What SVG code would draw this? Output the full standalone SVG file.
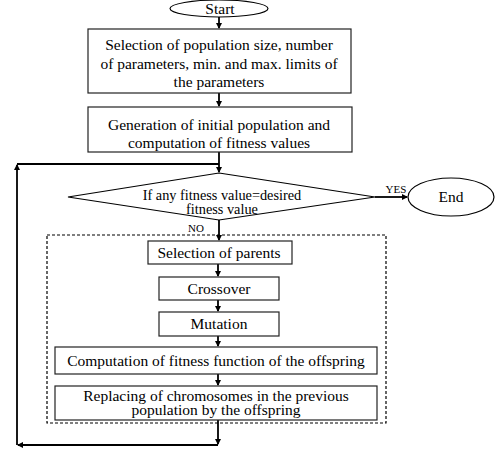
<svg xmlns="http://www.w3.org/2000/svg" width="495" height="453" viewBox="0 0 495 453">
<defs>
<marker id="ah" markerWidth="6" markerHeight="6" refX="5" refY="3" orient="auto" markerUnits="userSpaceOnUse">
<path d="M0,0 L6,3 L0,6 z" fill="#000"/>
</marker>
<style>
.box{fill:#fff;stroke:#222;stroke-width:1.2}
text{font-family:'Liberation Serif',serif;fill:#000;text-anchor:middle}
.t{font-size:15.5px}
.ts{font-size:14.3px}
.tl{font-size:11px}
.c{fill:none;stroke:#000;stroke-width:1.8}
</style>
</defs>
<rect width="495" height="453" fill="#fff"/>
<g id="connectors">
<line class="c" x1="219" y1="17" x2="219" y2="28" marker-end="url(#ah)"/>
<line class="c" x1="219" y1="93" x2="219" y2="106" marker-end="url(#ah)"/>
<line class="c" x1="219" y1="152" x2="219" y2="172" marker-end="url(#ah)"/>
<line class="c" x1="17" y1="164" x2="219" y2="164"/>
<line class="c" x1="17" y1="445" x2="17" y2="165" marker-end="url(#ah)"/>
<line class="c" x1="218" y1="445" x2="18" y2="445" marker-end="url(#ah)"/>
<line class="c" x1="218" y1="420" x2="218" y2="444" marker-end="url(#ah)"/>
<line class="c" x1="375" y1="197" x2="407" y2="197" marker-end="url(#ah)"/>
<line class="c" x1="219" y1="220" x2="219" y2="240" marker-end="url(#ah)"/>
<line class="c" x1="218" y1="264" x2="218" y2="276" marker-end="url(#ah)"/>
<line class="c" x1="218" y1="300" x2="218" y2="311" marker-end="url(#ah)"/>
<line class="c" x1="218" y1="336" x2="218" y2="346" marker-end="url(#ah)"/>
<line class="c" x1="218" y1="374" x2="218" y2="385" marker-end="url(#ah)"/>
<text class="tl" x="396" y="193" font-family="Liberation Serif, serif">YES</text>
<text class="tl" x="196" y="232" font-family="Liberation Serif, serif">NO</text>
</g>
<rect x="47" y="235" width="339" height="188" fill="none" stroke="#000" stroke-width="1.2" stroke-dasharray="3,2"/>
<g id="start">
<ellipse cx="219" cy="8.5" rx="49" ry="8.5" fill="#fff" stroke="#000" stroke-width="1.2"/>
<text class="t" x="220" y="14" font-family="Liberation Serif, serif">Start</text>
</g>
<g id="init">
<rect class="box" x="88" y="29" width="263" height="64"/>
<text class="t" x="219" y="50" font-family="Liberation Serif, serif">Selection of  population size, number</text>
<text class="t" x="219" y="68.5" font-family="Liberation Serif, serif">of parameters, min. and max. limits of</text>
<text class="t" x="219" y="87" font-family="Liberation Serif, serif">the parameters</text>
</g>
<g id="gen">
<rect class="box" x="88" y="107" width="264" height="45"/>
<text class="t" x="219" y="130" font-family="Liberation Serif, serif">Generation of initial population and</text>
<text class="t" x="219" y="148" font-family="Liberation Serif, serif">computation of fitness values</text>
</g>
<g id="decision">
<polygon points="219,173 375,197 219,220 68,197" fill="#fff" stroke="#000" stroke-width="1.2"/>
<text class="ts" x="222" y="200" font-family="Liberation Serif, serif">If any fitness value=desired</text>
<text class="ts" x="222" y="214" font-family="Liberation Serif, serif">fitness value</text>
</g>
<g id="end">
<ellipse cx="451" cy="197" rx="43" ry="19" fill="#fff" stroke="#000" stroke-width="1.2"/>
<text class="t" x="451" y="202" font-family="Liberation Serif, serif">End</text>
</g>
<g id="parents">
<rect class="box" x="148" y="241" width="144" height="23"/>
<text class="t" x="219" y="258" font-family="Liberation Serif, serif">Selection of parents</text>
</g>
<g id="crossover">
<rect class="box" x="159" y="277" width="120" height="23"/>
<text class="t" x="219" y="294" font-family="Liberation Serif, serif">Crossover</text>
</g>
<g id="mutation">
<rect class="box" x="159" y="312" width="120" height="24"/>
<text class="t" x="219" y="329" font-family="Liberation Serif, serif">Mutation</text>
</g>
<g id="fitness">
<rect class="box" x="55" y="347" width="322" height="27"/>
<text class="t" x="216" y="366" font-family="Liberation Serif, serif">Computation of fitness function of the offspring</text>
</g>
<g id="replace">
<rect class="box" x="55" y="386" width="322" height="34"/>
<text class="t" x="216" y="401" font-family="Liberation Serif, serif">Replacing of chromosomes in the previous</text>
<text class="t" x="216" y="415" font-family="Liberation Serif, serif">population by the offspring</text>
</g>
</svg>
